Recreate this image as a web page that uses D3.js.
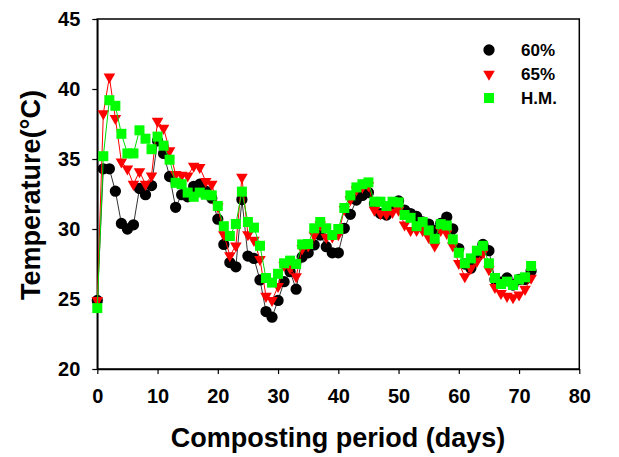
<!DOCTYPE html>
<html>
<head>
<meta charset="utf-8">
<script src="https://cdn.jsdelivr.net/npm/d3@7"></script>
<style>
body { margin: 0; background: #fff; }
text { font-family: Arial, "Liberation Sans", sans-serif; font-weight: bold; }
</style>
</head>
<body>
<svg id="chart"></svg>
<script>
// ---------------------------- data -----------------------------------
const days = d3.range(0, 73);

const t60 = [24.9, 34.3, 34.3, 32.7, 30.4, 30.0, 30.3, 32.9, 32.45, 33.1,
36.3, 35.4, 33.75, 31.55, 32.45, 32.3, 33.05, 33.2, 32.7, 32.2,
30.7, 28.9, 27.6, 27.3, 32.1, 28.07, 27.9, 26.36, 24.1, 23.7,
24.9, 26.24, 26.95, 25.7, 28.0, 28.3, 28.86, 29.57, 28.74, 28.3,
28.3, 30.05, 31.05, 32.07, 32.4, 32.6, 31.8, 31.1, 31.0, 31.7,
32.0, 31.35, 31.1, 30.9, 30.5, 30.35, 29.9, 30.4, 30.85, 30.0,
28.6, 27.5, 27.2, 28.0, 28.9, 28.45, 26.4, 26.2, 26.5, 26.0,
26.4, 26.4, 27.0];

const t65 = [24.9, 38.24, 40.86, 37.9, 34.8, 34.3, 33.2, 34.1, 33.2, 33.8,
37.7, 37.2, 35.6, 33.9, 33.85, 33.8, 34.5, 34.4, 33.4, 33.2,
31.6, 29.6, 28.1, 28.8, 33.7, 29.6, 29.2, 27.83, 25.2, 24.9,
25.9, 27.4, 27.2, 26.6, 28.6, 28.8, 29.57, 30.3, 29.4, 29.45,
29.6, 31.4, 32.1, 32.8, 33.0, 33.1, 31.35, 31.1, 31.07, 31.2,
31.35, 30.3, 29.9, 29.9, 29.9, 29.4, 28.8, 29.9, 29.7, 28.8,
27.55, 26.6, 27.2, 27.7, 28.3, 27.1, 25.83, 25.4, 25.2, 25.1,
25.3, 25.7, 26.5];

const tHM = [24.35, 35.2, 39.2, 38.8, 36.8, 35.4, 35.4, 37.05, 36.45, 35.7,
36.6, 35.95, 34.95, 33.3, 33.2, 32.6, 32.3, 32.6, 32.45, 32.4,
31.65, 30.2, 29.5, 30.36, 32.67, 30.5, 30.1, 28.8, 26.5, 26.17,
26.8, 27.55, 27.74, 27.5, 28.9, 28.93, 30.05, 30.5, 30.05, 29.57,
30.0, 31.5, 32.4, 32.97, 33.2, 33.33, 31.95, 31.95, 31.64, 31.95,
31.9, 31.0, 30.8, 30.2, 30.5, 29.9, 29.3, 30.35, 30.25, 29.26,
28.3, 27.55, 27.9, 28.45, 28.8, 27.55, 26.5, 26.07, 26.24, 26.0,
26.4, 26.55, 27.36];

const seriesNames = ['60%', '65%', 'H.M.'];
const xTicks = [0, 10, 20, 30, 40, 50, 60, 70, 80];
const yTicks = [20, 25, 30, 35, 40, 45];

// ---------------------------- chart -----------------------------------
const width = 619;
const height = 457;
const svg = d3.select('#chart')
.attr('width', width)
.attr('height', height);

const plotLeft = 97.3, plotRight = 579.3, plotTop = 19, plotBottom = 369;

const xScale = d3.scaleLinear()
.domain([0, 80])
.range([plotLeft, plotRight]);

const yScale = d3.scaleLinear()
.domain([20, 45])
.range([plotBottom, plotTop]);

// frame
svg.append('rect')
.attr('x', plotLeft)
.attr('y', plotTop)
.attr('width', plotRight - plotLeft)
.attr('height', plotBottom - plotTop)
.attr('fill', 'none')
.attr('stroke', '#000')
.attr('stroke-width', 1.5);

// axes
const xAxis = svg.append('g')
.attr('transform', 'translate(0,' + plotBottom + ')')
.call(d3.axisBottom(xScale).tickValues(xTicks).tickSize(5).tickSizeOuter(0).tickPadding(15));

const yAxis = svg.append('g')
.attr('transform', 'translate(' + plotLeft + ',0)')
.call(d3.axisLeft(yScale).tickValues(yTicks).tickSize(5).tickSizeOuter(0).tickPadding(12));

[xAxis, yAxis].forEach(function(g) {
g.select('.domain').attr('stroke-width', 1.5);
g.selectAll('.tick line').attr('stroke-width', 1.2);
g.selectAll('.tick text')
    .style('font-size', '20px')
    .style('font-weight', 'bold')
    .attr('fill', '#000');
});

// axis titles
svg.append('text')
.attr('x', 338)
.attr('y', 447)
.attr('text-anchor', 'middle')
.style('font-size', '27px')
.text('Composting period (days)');

svg.append('text')
.attr('transform', 'translate(40,195) rotate(-90)')
.attr('text-anchor', 'middle')
.style('font-size', '27px')
.text('Temperature(\u00B0C)');

// series
const series = [
{ name: seriesNames[0], values: t60, line: '#333', fill: '#000', symbol: d3.symbolCircle, size: 100, rot: 0 },
{ name: seriesNames[1], values: t65, line: '#ff0000', fill: '#ff0000', symbol: d3.symbolTriangle, size: 58, rot: 180 },
{ name: seriesNames[2], values: tHM, line: '#00dd00', fill: '#00ff00', symbol: d3.symbolSquare, size: 100, rot: 0 }
];

const line = d3.line()
.x((d, i) => xScale(days[i]))
.y(d => yScale(d));

series.forEach(function(s) {
svg.append('path')
    .datum(s.values)
    .attr('d', line)
    .attr('fill', 'none')
    .attr('stroke', s.line)
    .attr('stroke-width', 1);

svg.append('g').selectAll('path')
    .data(s.values)
    .enter()
    .append('path')
    .attr('d', d3.symbol().type(s.symbol).size(s.size))
    .attr('transform', (d, i) => 'translate(' + xScale(days[i]) + ',' + yScale(d) + ') rotate(' + s.rot + ')')
    .attr('fill', s.fill);
});

// legend
const legend = svg.append('g');
series.forEach(function(s, i) {
const ly = 50 + i * 24;
legend.append('path')
    .attr('d', d3.symbol().type(s.symbol).size(s.size))
    .attr('transform', 'translate(489,' + ly + ') rotate(' + s.rot + ')')
    .attr('fill', s.fill);
legend.append('text')
    .attr('x', 521)
    .attr('y', ly + 6)
    .style('font-size', '17px')
    .text(s.name);
});
</script>
</body>
</html>
